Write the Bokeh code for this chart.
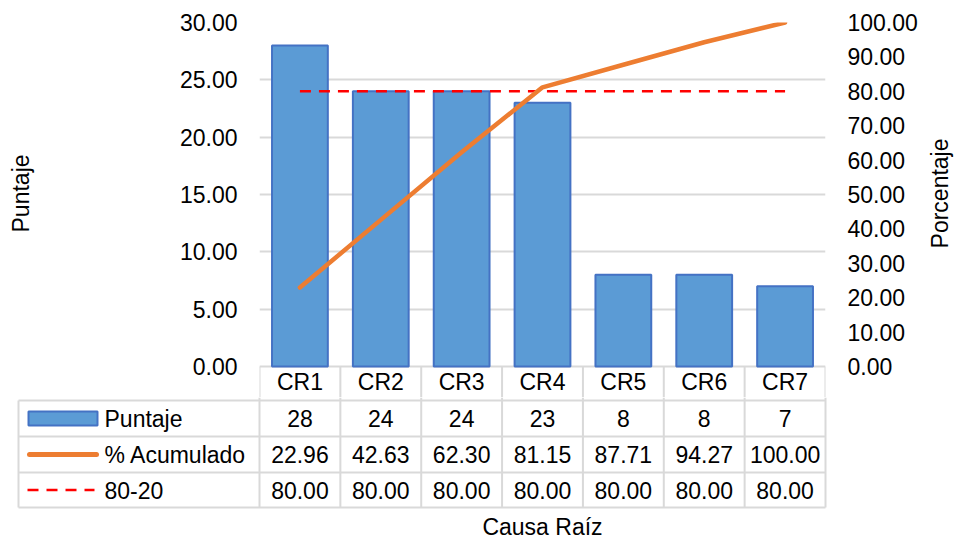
import math

from bokeh.core.properties import value
from bokeh.embed import file_html
from bokeh.layouts import column, row
from bokeh.models import (ColumnDataSource, FactorRange, FixedTicker,
                          LinearAxis, NumeralTickFormatter, Range1d)
from bokeh.plotting import figure
from bokeh.resources import INLINE

# ---- data -------------------------------------------------------------
causes = ["CR1", "CR2", "CR3", "CR4", "CR5", "CR6", "CR7"]
puntaje = [28, 24, 24, 23, 8, 8, 7]
acumulado = [22.96, 42.63, 62.30, 81.15, 87.71, 94.27, 100.00]
regla_80_20 = [80.00, 80.00, 80.00, 80.00, 80.00, 80.00, 80.00]

left_ticks = [0, 5, 10, 15, 20, 25, 30]
right_ticks = [0, 10, 20, 30, 40, 50, 60, 70, 80, 90, 100]
row_names = ["Puntaje", "% Acumulado", "80-20"]

# ---- style ------------------------------------------------------------
FONT = "Liberation Sans"
FS = "23px"
BAR_FILL = "#5B9BD5"
BAR_LINE = "#4472C4"
ORANGE = "#ED7D31"
RED = "#FF0000"
GRID = "#D9D9D9"
TEXT = "black"

# ---- page geometry (pixels) -------------------------------------------
W, H = 955, 539
LEFT_STRIP, RIGHT_STRIP = 45, 35
FRAME_L, FRAME_R = 259, 825          # plot area, left/right edge
FRAME_T, ZERO_Y = 22, 366            # y of the 30.00 and 0.00 gridlines
SPLIT = 397                          # chart / table boundary
COL_W = (FRAME_R - FRAME_L) / len(causes)

# chart y-range reaches below zero so the category header row sits inside it
Y_MAX = left_ticks[-1]
Y_MIN = -Y_MAX * (SPLIT - ZERO_Y) / (ZERO_Y - FRAME_T)
PCT_MAX = right_ticks[-1]
PCT_MIN = Y_MIN * PCT_MAX / Y_MAX


def bare(fig):
    fig.outline_line_color = None
    fig.background_fill_color = "white"
    fig.border_fill_color = "white"
    return fig


# ---- chart ------------------------------------------------------------
chart_w = W - LEFT_STRIP - RIGHT_STRIP
p = bare(figure(width=chart_w, height=SPLIT, title=None,
                x_range=FactorRange(*causes), y_range=Range1d(Y_MIN, Y_MAX),
                output_backend="svg", toolbar_location=None,
                min_border_left=FRAME_L - LEFT_STRIP,
                min_border_right=chart_w - (FRAME_R - LEFT_STRIP),
                min_border_top=FRAME_T, min_border_bottom=0))
p.xaxis.visible = False
p.xgrid.visible = False
p.ygrid.ticker = FixedTicker(ticks=left_ticks)
p.ygrid.grid_line_color = GRID
p.ygrid.grid_line_width = 2

p.extra_y_ranges = {"pct": Range1d(PCT_MIN, PCT_MAX)}
right_axis = LinearAxis(y_range_name="pct", ticker=FixedTicker(ticks=right_ticks),
                        formatter=NumeralTickFormatter(format="0.00"))
p.add_layout(right_axis, "right")
p.yaxis[0].ticker = FixedTicker(ticks=left_ticks)
p.yaxis[0].formatter = NumeralTickFormatter(format="0.00")

for ax in [p.yaxis[0], right_axis]:
    ax.axis_line_color = None
    ax.major_tick_line_color = None
    ax.minor_tick_line_color = None
    ax.major_tick_in = 0
    ax.major_tick_out = 0
    ax.major_label_standoff = 22
    ax.major_label_text_font = FONT
    ax.major_label_text_font_size = FS
    ax.major_label_text_color = TEXT

src = ColumnDataSource(dict(cause=causes, puntaje=puntaje,
                            acumulado=acumulado, regla=regla_80_20))
p.vbar(x="cause", top="puntaje", width=0.69, source=src,
       fill_color=BAR_FILL, line_color=BAR_LINE, line_width=2)
p.line(x="cause", y="regla", source=src, y_range_name="pct",
       line_color=RED, line_width=2.5, line_dash="11 8")
p.line(x="cause", y="acumulado", source=src, y_range_name="pct",
       line_color=ORANGE, line_width=4.5, line_join="round", line_cap="round")

# category header row of the data table
edges = list(range(len(causes) + 1))
p.segment(x0=edges, x1=edges, y0=[0] * len(edges), y1=[Y_MIN] * len(edges),
          line_color=GRID, line_width=2)
p.text(x=causes, y=[Y_MIN / 2] * len(causes), text=causes,
       text_align="center", text_baseline="middle",
       text_font=value(FONT), text_font_size=value(FS), text_color=TEXT)

# ---- axis-title strips ------------------------------------------------
def strip(width, x0, x_title, y_title, title):
    s = bare(figure(width=width, height=SPLIT, title=None,
                    x_range=Range1d(x0, x0 + width), y_range=Range1d(SPLIT, 0),
                    x_axis_type=None, y_axis_type=None,
                    output_backend="svg", toolbar_location=None,
                    min_border=0))
    s.grid.visible = False
    s.text(x=[x_title], y=[y_title], text=[title], angle=math.pi / 2,
           text_align="center", text_baseline="middle",
           text_font=value(FONT), text_font_size=value(FS), text_color=TEXT)
    return s


left_strip = strip(LEFT_STRIP, 0, 20, 181, "Puntaje")
right_strip = strip(RIGHT_STRIP, W - RIGHT_STRIP, 939, 181, "Porcentaje")

# ---- data table -------------------------------------------------------
TH = H - SPLIT
t = bare(figure(width=W, height=TH, title=None,
                x_range=Range1d(-FRAME_L / COL_W, (W - FRAME_L) / COL_W),
                y_range=Range1d(TH, 0),
                x_axis_type=None, y_axis_type=None,
                output_backend="svg", toolbar_location=None, min_border=0))
t.grid.visible = False


def cx(px):
    # page x pixel -> table column units
    return (px - FRAME_L) / COL_W


row_lines = [400 - SPLIT, 436 - SPLIT, 472 - SPLIT, 507 - SPLIT]
row_mid = [(a + b) / 2 for a, b in zip(row_lines[:-1], row_lines[1:])]
x_left = cx(18)
n = len(causes)

t.segment(x0=edges, x1=edges, y0=[0] * len(edges), y1=[row_lines[-1]] * len(edges),
          line_color=GRID, line_width=2)
t.segment(x0=[x_left], x1=[x_left], y0=[row_lines[0]], y1=[row_lines[-1]],
          line_color=GRID, line_width=2)
t.segment(x0=[x_left] * len(row_lines), x1=[n] * len(row_lines),
          y0=row_lines, y1=row_lines, line_color=GRID, line_width=2)

centers = [i + 0.5 for i in range(n)]
for ymid, vals, fmt in [(row_mid[0], puntaje, "{:d}"),
                        (row_mid[1], acumulado, "{:.2f}"),
                        (row_mid[2], regla_80_20, "{:.2f}")]:
    t.text(x=centers, y=[ymid] * n, text=[fmt.format(v) for v in vals],
           text_align="center", text_baseline="middle",
           text_font=value(FONT), text_font_size=value(FS), text_color=TEXT)

t.text(x=[cx(104)] * 3, y=row_mid, text=row_names,
       text_align="left", text_baseline="middle",
       text_font=value(FONT), text_font_size=value(FS), text_color=TEXT)

# legend keys in the row headers
t.quad(left=[cx(28)], right=[cx(97)], top=[row_mid[0] - 7], bottom=[row_mid[0] + 7],
       fill_color=BAR_FILL, line_color=BAR_LINE, line_width=2)
t.line(x=[cx(29), cx(96)], y=[row_mid[1], row_mid[1]],
       line_color=ORANGE, line_width=5, line_cap="round")
t.line(x=[cx(27), cx(94)], y=[row_mid[2], row_mid[2]],
       line_color=RED, line_width=2.5, line_dash="11 8")

t.text(x=[n / 2], y=[526 - SPLIT], text=["Causa Raíz"],
       text_align="center", text_baseline="middle",
       text_font=value(FONT), text_font_size=value(FS), text_color=TEXT)

layout = column(row(left_strip, p, right_strip), t, spacing=0)
open("out.html", "w").write(file_html(layout, INLINE))
